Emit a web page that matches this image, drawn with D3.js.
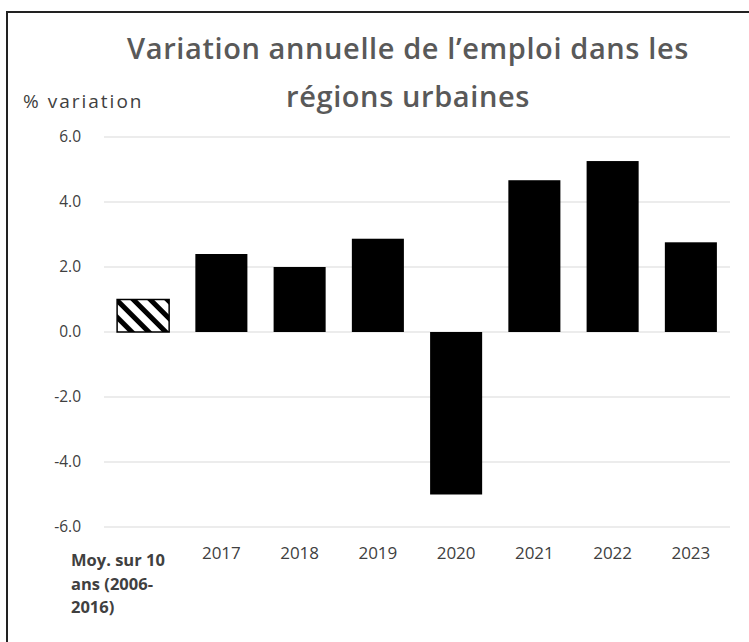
<!DOCTYPE html>
<html>
<head>
<meta charset="utf-8">
<script src="https://cdn.jsdelivr.net/npm/d3@7"></script>
<style>
  body { margin: 0; background: #fff; }
  svg { font-family: "Open Sans", sans-serif; font-variant-ligatures: none; }
</style>
</head>
<body>
<svg></svg>
<script>
const categories = ["avg", "2017", "2018", "2019", "2020", "2021", "2022", "2023"];
const values = [1.0, 2.4, 2.0, 2.87, -5.0, 4.67, 5.26, 2.76];
const yTicks = [-6, -4, -2, 0, 2, 4, 6];
const avgLabel = ["Moy. sur 10", "ans (2006-", "2016)"];
const titleLines = ["Variation annuelle de l\u2019emploi dans les", "régions urbaines"];

const W = 749, H = 642;
const svg = d3.select('svg')
    .attr('width', W)
    .attr('height', H);

svg.append('rect')
    .attr('width', W).attr('height', H)
    .attr('fill', '#fff');

// frame (left + top only visible)
svg.append('path')
    .attr('d', `M7,${H} V12 H${W}`)
    .attr('fill', 'none')
    .attr('stroke', '#222')
    .attr('stroke-width', 2);

const defs = svg.append('defs');
defs.append('pattern')
    .attr('id', 'hatch')
    .attr('patternUnits', 'userSpaceOnUse')
    .attr('width', 12).attr('height', 12)
    .attr('patternTransform', 'rotate(-45)')
  .append('rect')
    .attr('x', 0).attr('y', 0)
    .attr('width', 5).attr('height', 12)
    .attr('fill', '#000');

const x = d3.scaleBand()
    .domain(categories)
    .range([104, 730])
    .paddingInner(0.335)
    .paddingOuter(0.1675);

const y = d3.scaleLinear()
    .domain([-6, 6])
    .range([527, 137]);

// gridlines
svg.append('g')
    .selectAll('line')
    .data(yTicks)
    .join('line')
    .attr('x1', 104).attr('x2', 730)
    .attr('y1', d => y(d)).attr('y2', d => y(d))
    .attr('stroke', '#d9d9d9')
    .attr('stroke-width', 1.2);

// y axis labels
const fmt = d => d3.format('.1f')(d).replace('\u2212', '-');
const yAxis = d3.axisLeft(y)
    .tickValues(yTicks)
    .tickFormat(fmt)
    .tickSize(0)
    .tickPadding(0);
const gy = svg.append('g')
    .attr('transform', 'translate(81,0)')
    .call(yAxis);
gy.select('.domain').remove();
gy.selectAll('text')
    .attr('fill', '#404040')
    .attr('font-size', 15.5)
    .attr('font-family', '"Open Sans", sans-serif');

// bars
svg.append('g')
    .selectAll('rect')
    .data(categories.map((c, i) => ({c, v: values[i]})))
    .join('rect')
    .attr('x', d => x(d.c))
    .attr('width', x.bandwidth())
    .attr('y', d => y(Math.max(0, d.v)))
    .attr('height', d => Math.abs(y(d.v) - y(0)))
    .attr('fill', d => d.c === 'avg' ? 'url(#hatch)' : '#000')
    .attr('stroke', d => d.c === 'avg' ? '#000' : 'none')
    .attr('stroke-width', 1.5);

// x labels
svg.append('g')
    .selectAll('text')
    .data(categories.filter(c => c !== 'avg'))
    .join('text')
    .attr('x', d => x(d) + x.bandwidth() / 2)
    .attr('y', 559)
    .attr('text-anchor', 'middle')
    .attr('fill', '#404040')
    .attr('font-size', 17)
    .text(d => d);

svg.append('g')
    .selectAll('text')
    .data(avgLabel)
    .join('text')
    .attr('x', 71)
    .attr('y', (d, i) => 566 + i * 23.5)
    .attr('fill', '#404040')
    .attr('font-size', 16.5)
    .attr('font-weight', 'bold')
    .text(d => d);

// axis title
svg.append('text')
    .attr('x', 23).attr('y', 108)
    .attr('fill', '#404040')
    .attr('font-size', 19)
    .attr('letter-spacing', 2)
    .text('% variation');

// chart title
svg.append('g')
    .selectAll('text')
    .data(titleLines)
    .join('text')
    .attr('x', 408)
    .attr('y', (d, i) => 59 + i * 48)
    .attr('text-anchor', 'middle')
    .attr('fill', '#595959')
    .attr('font-size', 29)
    .attr('font-weight', 600)
    .attr('letter-spacing', 0.6)
    .text(d => d);
</script>
</body>
</html>
